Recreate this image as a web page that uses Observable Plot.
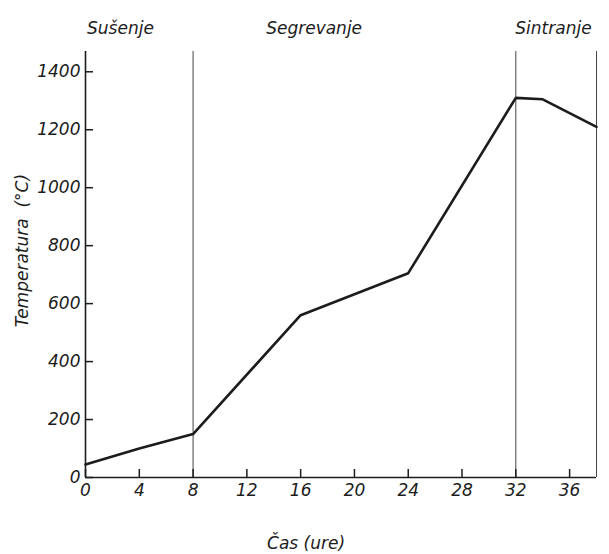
<!DOCTYPE html>
<html><head><meta charset="utf-8">
<script src="https://cdn.jsdelivr.net/npm/d3@7"></script>
<script src="https://cdn.jsdelivr.net/npm/@observablehq/plot@0.6"></script>
<style>body{margin:0;background:#fff}</style>
</head><body><div id="chart"></div>
<script>
const hours = [0, 4, 8, 16, 24, 32, 34, 38];
const temperatures = [45, 100, 150, 560, 705, 1310, 1305, 1210];
const phaseBoundaries = [8, 32, 38];
const phaseNames = ["Sušenje", "Segrevanje", "Sintranje"];
const phaseLabelHours = [2.6, 17.0, 34.8];
const xTicks = [0, 4, 8, 12, 16, 20, 24, 28, 32, 36];
const yTicks = [0, 200, 400, 600, 800, 1000, 1200, 1400];
const xTitle = "Čas (ure)";
const yTitle = "Temperatura  (°C)";

const series = hours.map((h, i) => ({h, t: temperatures[i]}));
const phases = phaseNames.map((name, i) => ({name, h: phaseLabelHours[i]}));
const ink = "#1c1c1c";
const W = 609, H = 554, mL = 85, mR = 13, mT = 51, mB = 77, tickLen = 8;
const frameW = W - mL - mR, frameH = H - mT - mB;

const chart = Plot.plot({
  width: W,
  height: H,
  marginLeft: mL,
  marginRight: mR,
  marginTop: mT,
  marginBottom: mB,
  style: {fontFamily: "'DejaVu Sans', sans-serif", fontStyle: "italic", fontSize: "17px", color: ink, background: "#fff"},
  x: {domain: [0, 38]},
  y: {domain: [0, 1470]},
  marks: [
    Plot.ruleX(phaseBoundaries, {stroke: "#444", strokeWidth: 1}),
    Plot.ruleX([0], {stroke: ink, strokeWidth: 1.6}),
    Plot.ruleY([0], {stroke: ink, strokeWidth: 1.6}),
    Plot.tickX(xTicks, {x: d => d, insetTop: frameH - tickLen, stroke: ink, strokeWidth: 1.5}),
    Plot.tickY(yTicks, {y: d => d, insetRight: frameW - tickLen, stroke: ink, strokeWidth: 1.5}),
    Plot.axisX({ticks: xTicks, tickSize: 0, tickPadding: 6, tickFormat: d => String(d), label: null, fontSize: 17}),
    Plot.axisY({ticks: yTicks, tickSize: 0, tickPadding: 5, tickFormat: d => String(d), label: null, fontSize: 17}),
    Plot.line(series, {x: "h", y: "t", stroke: ink, strokeWidth: 2.6, strokeLinejoin: "round"}),
    Plot.text(phases, {x: "h", text: "name", frameAnchor: "top", dy: -30, fontSize: 17, fill: ink}),
    Plot.text([xTitle], {text: d => d, x: 16.4, frameAnchor: "bottom", dy: 71, fontSize: 17, fill: ink}),
    Plot.text([yTitle], {text: d => d, frameAnchor: "left", textAnchor: "middle", rotate: -90, dx: -63, dy: -14, fontSize: 17, fill: ink})
  ]
});
document.getElementById("chart").append(chart);
</script>
</body></html>
